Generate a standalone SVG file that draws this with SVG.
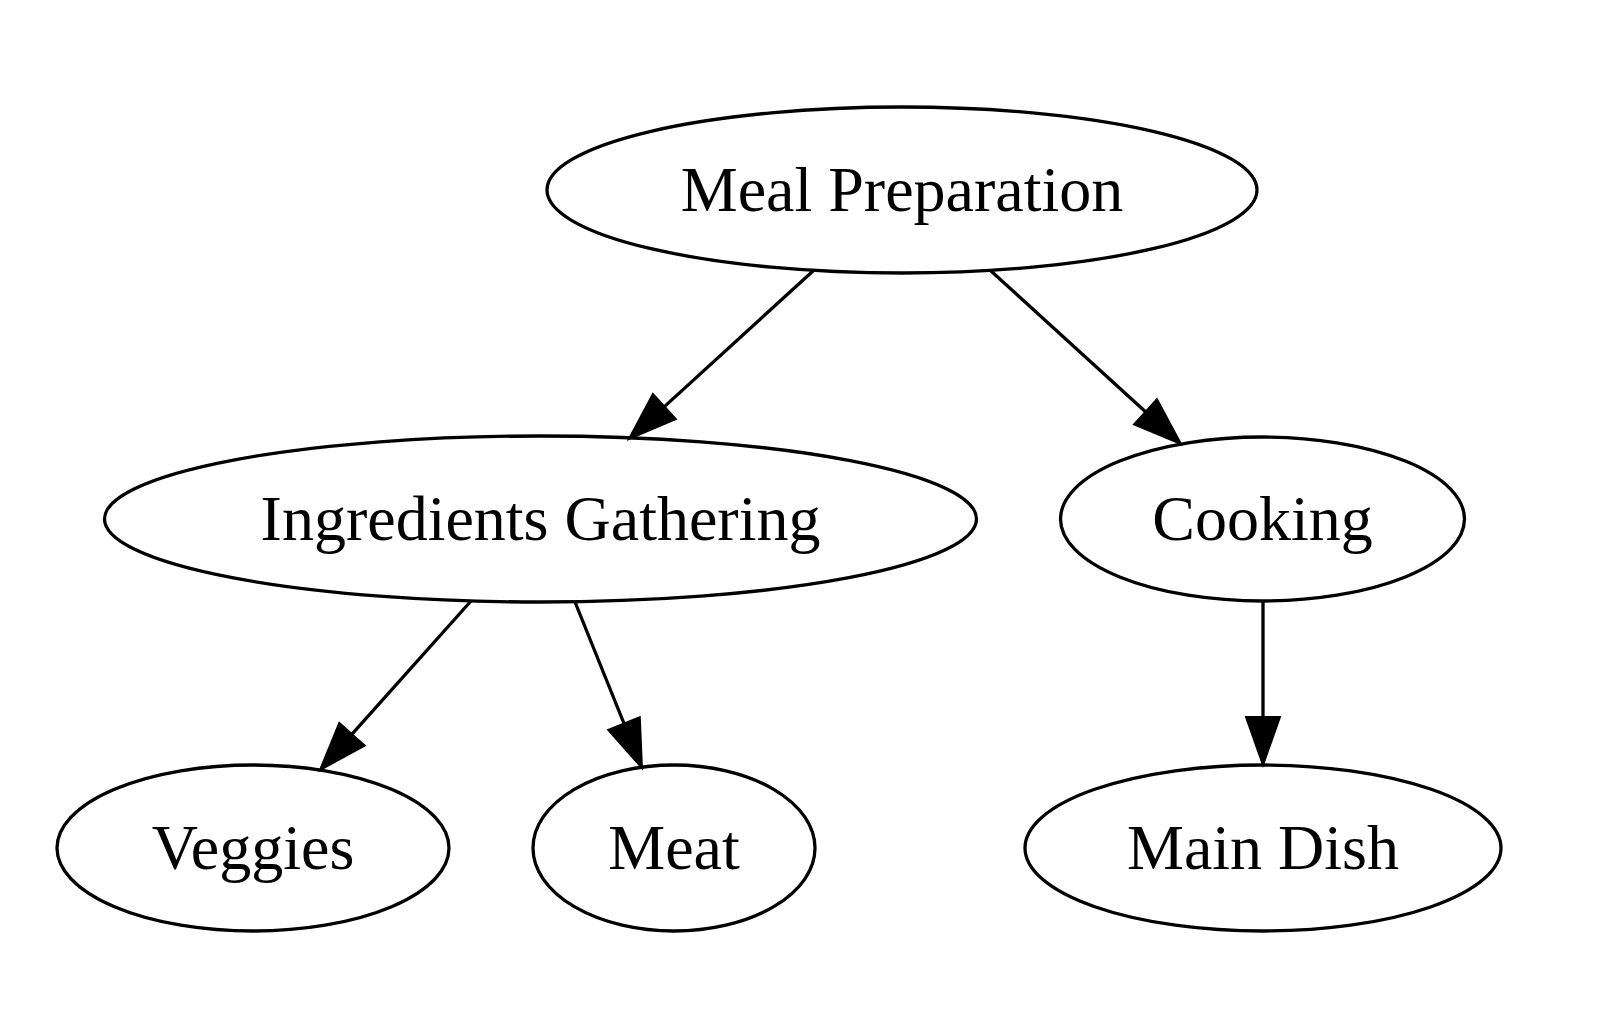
<svg xmlns="http://www.w3.org/2000/svg" width="1622" height="1024" viewBox="0 0 1622 1024">
<style>
.node ellipse{fill:none;stroke:#000;stroke-width:3.3}
.node text{font-family:"Liberation Serif","Times New Roman",serif;font-size:64px;text-anchor:middle;fill:#000}
.edge{stroke:#000;stroke-width:3.3;fill:none;marker-end:url(#arr)}
</style>
<defs>
<marker id="arr" markerUnits="userSpaceOnUse" markerWidth="50" markerHeight="36" refX="0" refY="17" orient="auto" overflow="visible">
<path d="M0,0 L48,17 L0,34 z" fill="#000" stroke="#000" stroke-width="2"/>
</marker>
</defs>
<rect width="1622" height="1024" fill="#fff"/>
<g id="edges">
<line class="edge" x1="813" y1="271" x2="664.4" y2="406.6"/>
<line class="edge" x1="991" y1="271" x2="1145.5" y2="411.7"/>
<line class="edge" x1="471" y1="601" x2="352" y2="734.2"/>
<line class="edge" x1="575" y1="602" x2="624" y2="723.5"/>
<line class="edge" x1="1263" y1="602" x2="1263" y2="717"/>
</g>
<g id="meal" class="node"><ellipse cx="902" cy="190" rx="355" ry="83"/><text x="902" y="211">Meal Preparation</text></g>
<g id="ingredients" class="node"><ellipse cx="540.5" cy="519" rx="436" ry="83"/><text x="540.5" y="540">Ingredients Gathering</text></g>
<g id="cooking" class="node"><ellipse cx="1262.5" cy="519" rx="202" ry="82"/><text x="1262.5" y="540">Cooking</text></g>
<g id="veggies" class="node"><ellipse cx="253" cy="848" rx="196" ry="83"/><text x="253" y="869">Veggies</text></g>
<g id="meat" class="node"><ellipse cx="674" cy="848" rx="141" ry="83"/><text x="674" y="869">Meat</text></g>
<g id="maindish" class="node"><ellipse cx="1263" cy="848" rx="238" ry="83"/><text x="1263" y="869">Main Dish</text></g>
</svg>
